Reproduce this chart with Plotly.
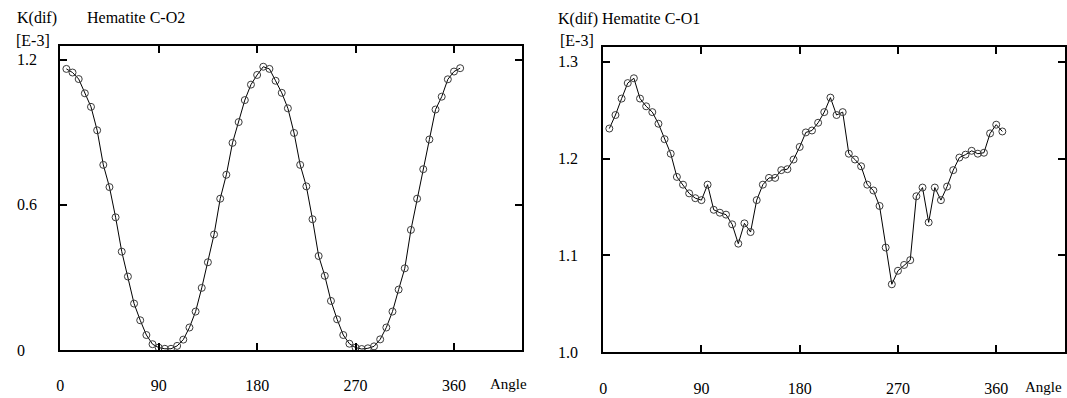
import plotly.graph_objects as go

W, H = 1067, 398

# ---- data ----
angles = [5.625, 11.25, 16.875, 22.5, 28.125, 33.75, 39.375, 45, 50.625, 56.25,
          61.875, 67.5, 73.125, 78.75, 84.375, 90, 95.625, 101.25, 106.875, 112.5,
          118.125, 123.75, 129.375, 135, 140.625, 146.25, 151.875, 157.5, 163.125, 168.75,
          174.375, 180, 185.625, 191.25, 196.875, 202.5, 208.125, 213.75, 219.375, 225,
          230.625, 236.25, 241.875, 247.5, 253.125, 258.75, 264.375, 270, 275.625, 281.25,
          286.875, 292.5, 298.125, 303.75, 309.375, 315, 320.625, 326.25, 331.875, 337.5,
          343.125, 348.75, 354.375, 360, 365.625]

kdif_co2 = [1.163, 1.148, 1.121, 1.062, 1.006, 0.909, 0.766, 0.674, 0.549, 0.407,
            0.304, 0.192, 0.123, 0.062, 0.024, 0.010, 0.005, 0.005, 0.017, 0.043,
            0.093, 0.159, 0.257, 0.363, 0.478, 0.626, 0.725, 0.857, 0.943, 1.034,
            1.098, 1.138, 1.172, 1.163, 1.114, 1.064, 1.000, 0.898, 0.766, 0.677,
            0.541, 0.389, 0.307, 0.203, 0.127, 0.062, 0.026, 0.010, 0.004, 0.007,
            0.015, 0.044, 0.093, 0.159, 0.250, 0.338, 0.497, 0.626, 0.748, 0.871,
            0.995, 1.048, 1.120, 1.152, 1.166]

kdif_co1 = [1.231, 1.245, 1.262, 1.278, 1.283, 1.262, 1.254, 1.248, 1.236, 1.220,
            1.205, 1.181, 1.173, 1.164, 1.159, 1.157, 1.173, 1.147, 1.144, 1.142,
            1.132, 1.112, 1.133, 1.124, 1.157, 1.173, 1.180, 1.180, 1.188, 1.189,
            1.199, 1.212, 1.227, 1.229, 1.237, 1.248, 1.263, 1.245, 1.248, 1.205,
            1.199, 1.192, 1.173, 1.167, 1.151, 1.108, 1.070, 1.084, 1.090, 1.095,
            1.161, 1.170, 1.134, 1.170, 1.157, 1.171, 1.188, 1.201, 1.204, 1.208,
            1.205, 1.206, 1.226, 1.235, 1.228]

x_tick_vals = [0, 90, 180, 270, 360]
x_tick_text = ["0", "90", "180", "270", "360"]
y_tick_vals_left = [0, 0.6, 1.2]
y_tick_text_left = ["0", "0.6", "1.2"]
y_tick_vals_right = [1.0, 1.1, 1.2, 1.3]
y_tick_text_right = ["1.0", "1.1", "1.2", "1.3"]

title_left = "Hematite C-O2"
title_right = "K(dif) Hematite C-O1"
ylabel = "K(dif)"
yunit = "[E-3]"
xlabel = "Angle"

FONT = "Liberation Serif, Times New Roman, serif"
FS = 16


def px(x):
    return x / W


def py(y):
    return (H - y) / H


fig = go.Figure()
marker = dict(symbol="circle-open", size=7, color="#3a3a3a", line=dict(width=1))
fig.add_trace(go.Scatter(x=angles, y=kdif_co2, mode="lines+markers",
                         line=dict(color="black", width=1), marker=marker,
                         xaxis="x", yaxis="y", showlegend=False))
fig.add_trace(go.Scatter(x=angles, y=kdif_co1, mode="lines+markers",
                         line=dict(color="black", width=1), marker=marker,
                         xaxis="x2", yaxis="y2", showlegend=False))

axis_common = dict(showline=True, linecolor="black", linewidth=2, mirror="ticks",
                   ticks="inside", ticklen=7, tickwidth=2, tickcolor="black",
                   showgrid=False, zeroline=False)

fig.update_layout(
    width=W, height=H,
    margin=dict(l=0, r=0, t=0, b=0),
    paper_bgcolor="white", plot_bgcolor="white",
    font=dict(family=FONT, size=FS, color="black"),
    xaxis=dict(domain=[px(56.5), px(520.7)], range=[0, 422.4], anchor="y",
               tickvals=x_tick_vals, ticktext=x_tick_text, ticklabelstandoff=20,
               **axis_common),
    yaxis=dict(domain=[py(350), py(45.7)], range=[0, 1.259], anchor="x",
               tickvals=y_tick_vals_left, showticklabels=False, **axis_common),
    xaxis2=dict(domain=[px(602), px(1066)], range=[0, 423], anchor="y2",
                tickvals=x_tick_vals, ticktext=x_tick_text, ticklabelstandoff=21,
                **axis_common),
    yaxis2=dict(domain=[py(352), py(47.3)], range=[1.0, 1.315], anchor="x2",
                tickvals=y_tick_vals_right, showticklabels=False, **axis_common),
)

ann = []
# y tick labels, left aligned as in the reference
for v, t in zip(y_tick_vals_left, y_tick_text_left):
    ann.append(dict(x=px(11), y=v, xref="paper", yref="y", text=t,
                    xanchor="left", yanchor="middle", showarrow=False))
for v, t in zip(y_tick_vals_right, y_tick_text_right):
    ann.append(dict(x=px(555), y=v, xref="paper", yref="y2", text=t,
                    xanchor="left", yanchor="middle", showarrow=False))

# titles / units
ann += [
    dict(x=px(11), y=py(18), xref="paper", yref="paper", text=ylabel,
         xanchor="left", yanchor="middle", showarrow=False),
    dict(x=px(81), y=py(18), xref="paper", yref="paper", text=title_left,
         xanchor="left", yanchor="middle", showarrow=False),
    dict(x=px(10), y=py(40), xref="paper", yref="paper", text=yunit,
         xanchor="left", yanchor="middle", showarrow=False),
    dict(x=px(555), y=py(19), xref="paper", yref="paper", text=title_right,
         xanchor="left", yanchor="middle", showarrow=False),
    dict(x=px(557), y=py(41), xref="paper", yref="paper", text=yunit,
         xanchor="left", yanchor="middle", showarrow=False),
    dict(x=px(507), y=py(384), xref="paper", yref="paper", text=xlabel,
         xanchor="center", yanchor="middle", showarrow=False, font=dict(size=15)),
    dict(x=px(1044), y=py(387), xref="paper", yref="paper", text=xlabel,
         xanchor="center", yanchor="middle", showarrow=False, font=dict(size=15)),
]
fig.update_layout(annotations=ann)

fig.write_html("out.html", config={"displayModeBar": False},
               post_script="document.body.style.margin='0';")
